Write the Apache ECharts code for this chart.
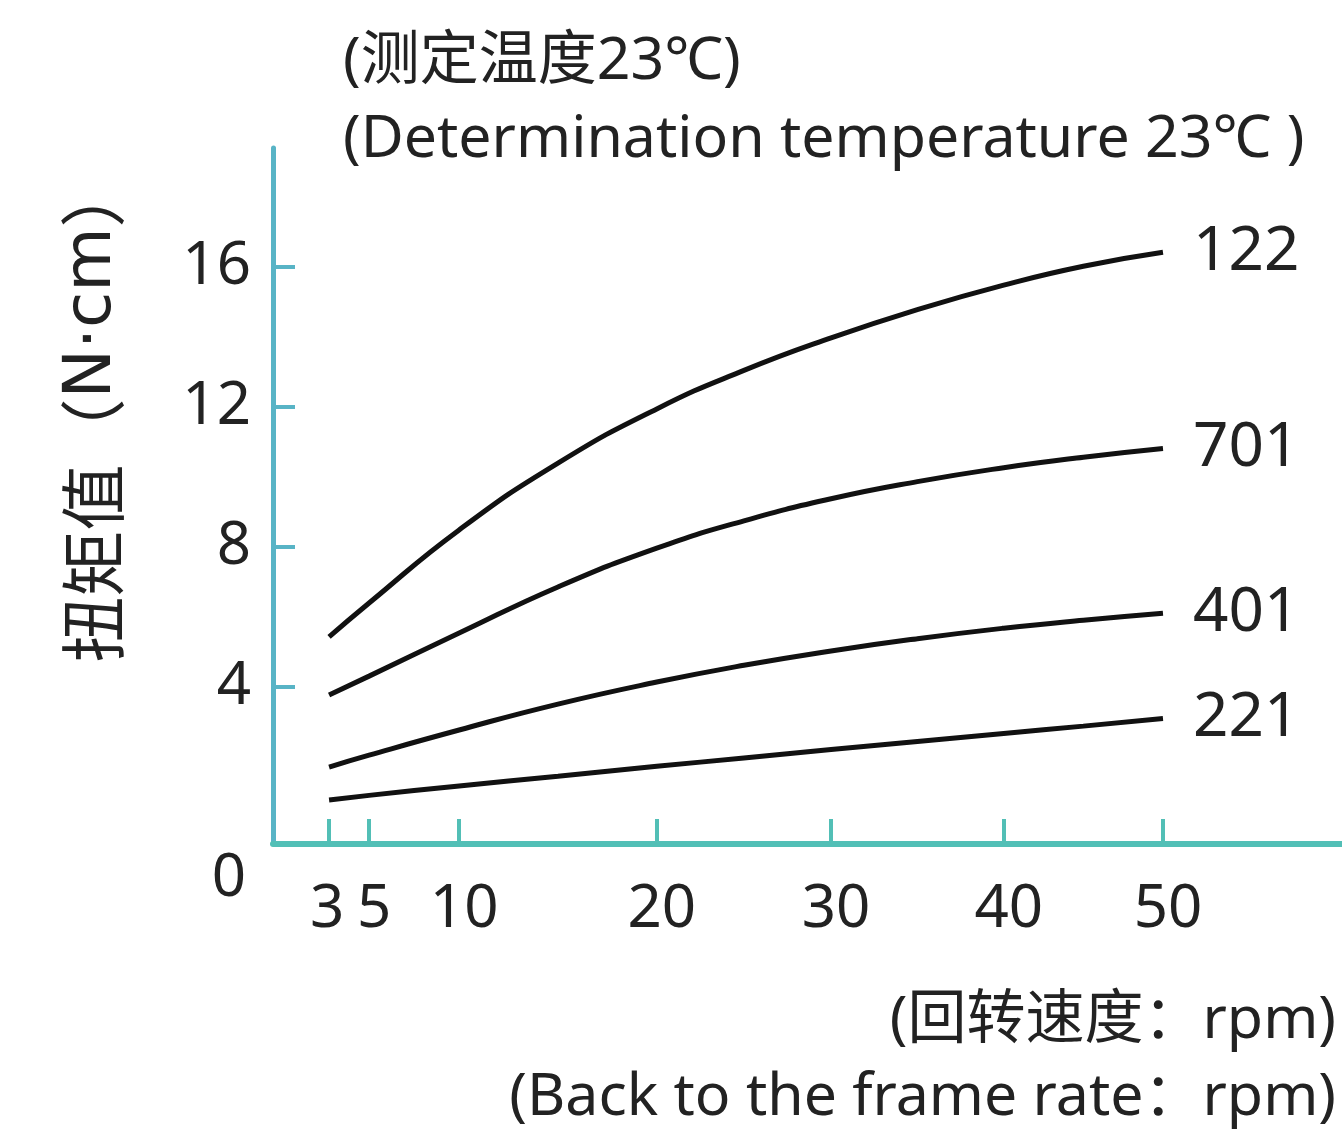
<!DOCTYPE html>
<html>
<head>
<meta charset="utf-8">
<script src="https://cdn.jsdelivr.net/npm/echarts@6/dist/echarts.min.js"></script>
<style>
  html, body { margin: 0; padding: 0; background: #ffffff; }
  #chart { width: 1342px; height: 1137px; }
</style>
</head>
<body>
<div id="chart"></div>
<script>
// ---- data ----
const rpm = [3, 5, 10, 15, 20, 25, 30, 35, 40, 45, 50];
const torque122 = [5.42, 6.39, 8.48, 10.39, 11.94, 13.04, 13.97, 14.78, 15.48, 16.02, 16.42];
const torque701 = [3.76, 4.30, 5.53, 6.85, 7.96, 8.74, 9.37, 9.86, 10.26, 10.56, 10.81];
const torque401 = [1.70, 2.04, 2.76, 3.50, 4.13, 4.61, 5.02, 5.37, 5.67, 5.90, 6.10];
const torque221 = [0.76, 0.89, 1.16, 1.44, 1.72, 1.96, 2.20, 2.43, 2.66, 2.87, 3.09];
const seriesNames = ['122', '701', '401', '221'];
const xTickLabels = [3, 5, 10, 20, 30, 40, 50];
// the reference's rpm axis is uneven: relative position of each tick along the 3..50 span
const xTickStops = [0, 0.048, 0.156, 0.393, 0.602, 0.809, 1];
const yTickLabels = [4, 8, 12, 16];
const zeroLabel = '0';
const titleLines = ['(测定温度23℃)', '(Determination temperature 23℃ )'];
const xNameLines = ['(回转速度：rpm)', '(Back to the frame rate：rpm)'];
const yNameParts = ['扭矩值（', 'N·cm', '）'];

// ---- uneven rpm scale ----
const X0 = xTickLabels[0], X1 = xTickLabels[xTickLabels.length - 1];
function warp(r) {
  const t = xTickLabels, s = xTickStops;
  let i = 0;
  while (i < t.length - 2 && r > t[i + 1]) i++;
  const f = s[i] + (r - t[i]) / (t[i + 1] - t[i]) * (s[i + 1] - s[i]);
  return X0 + f * (X1 - X0);
}
const xTickPos = xTickLabels.map(warp);

const FONT = "'Noto Sans', 'Noto Sans CJK SC', sans-serif";
const CJK = "'Noto Sans CJK SC', sans-serif";
const TXT = '#222222';
const Y_AXIS_COLOR = '#58b4c6';
const X_AXIS_COLOR = '#52bfb6';

const allSeries = [torque122, torque701, torque401, torque221];

const chart = echarts.init(document.getElementById('chart'), null, { renderer: 'canvas' });
chart.setOption({
  backgroundColor: '#ffffff',
  animation: false,
  textStyle: { fontFamily: FONT },
  title: {
    text: titleLines.join('\n'),
    left: 338, top: 18,
    textStyle: { fontFamily: FONT, fontSize: 59, fontWeight: 'normal', color: TXT, lineHeight: 78 }
  },
  grid: { left: 273, right: 0, top: 148, bottom: 293, containLabel: false },
  xAxis: {
    type: 'value',
    min: -0.16, max: 60.09,
    axisLine: { show: true, onZero: false, lineStyle: { color: X_AXIS_COLOR, width: 6 } },
    axisTick: { show: true, inside: true, length: 25, customValues: xTickPos, lineStyle: { color: X_AXIS_COLOR, width: 4 } },
    axisLabel: {
      show: true, margin: 36, fontSize: 60, color: TXT, fontFamily: FONT,
      customValues: xTickPos,
      formatter: function (v) {
        const i = xTickPos.findIndex(function (p) { return Math.abs(p - v) < 1e-6; });
        if (i < 0) return '';
        const key = i === 0 ? 'l' : 'r';
        return '{' + key + '|' + xTickLabels[i] + '}';
      },
      rich: {
        l: { fontSize: 60, color: TXT, fontFamily: FONT, padding: [0, 4, 0, 0] },
        r: { fontSize: 60, color: TXT, fontFamily: FONT, padding: [0, 0, 0, 10] }
      }
    },
    splitLine: { show: false }
  },
  yAxis: {
    type: 'value',
    min: -0.5, max: 19.4,
    axisLine: { show: true, onZero: false, lineStyle: { color: Y_AXIS_COLOR, width: 5 } },
    axisTick: { show: true, inside: true, length: 22, customValues: yTickLabels, lineStyle: { color: Y_AXIS_COLOR, width: 4 } },
    axisLabel: { show: true, margin: 22, fontSize: 60, color: TXT, fontFamily: FONT, customValues: yTickLabels },
    splitLine: { show: false }
  },
  graphic: [
    {
      type: 'text', x: 229, y: 879,
      style: { text: zeroLabel, fontSize: 60, fontFamily: FONT, fill: TXT, align: 'center', verticalAlign: 'middle' }
    },
    {
      type: 'text', x: 93, y: 412, rotation: Math.PI / 2,
      style: {
        text: '{c|' + yNameParts[0] + '}{n|' + yNameParts[1] + '}{c|' + yNameParts[2] + '}',
        align: 'center', verticalAlign: 'middle',
        rich: {
          c: { fontSize: 66, fontFamily: CJK, fill: TXT },
          n: { fontSize: 66, fontFamily: "'DejaVu Sans', sans-serif", fill: TXT }
        }
      }
    },
    {
      type: 'text', x: 1336, y: 1021,
      style: { text: xNameLines[0], fontSize: 59, fontFamily: FONT, fill: TXT, align: 'right', verticalAlign: 'middle' }
    },
    {
      type: 'text', x: 1336, y: 1098,
      style: { text: xNameLines[1], fontSize: 59, fontFamily: FONT, fill: TXT, align: 'right', verticalAlign: 'middle' }
    }
  ],
  series: allSeries.map(function (vals, k) {
    return {
      name: seriesNames[k],
      type: 'line',
      data: rpm.map(function (r, i) { return [warp(r), vals[i]]; }),
      showSymbol: false,
      smooth: 0.5,
      lineStyle: { color: '#111111', width: 5 },
      itemStyle: { color: '#111111' },
      endLabel: {
        show: true, formatter: seriesNames[k], distance: 30,
        fontSize: 62, color: TXT, fontFamily: FONT
      },
      silent: true
    };
  })
});
</script>
</body>
</html>
